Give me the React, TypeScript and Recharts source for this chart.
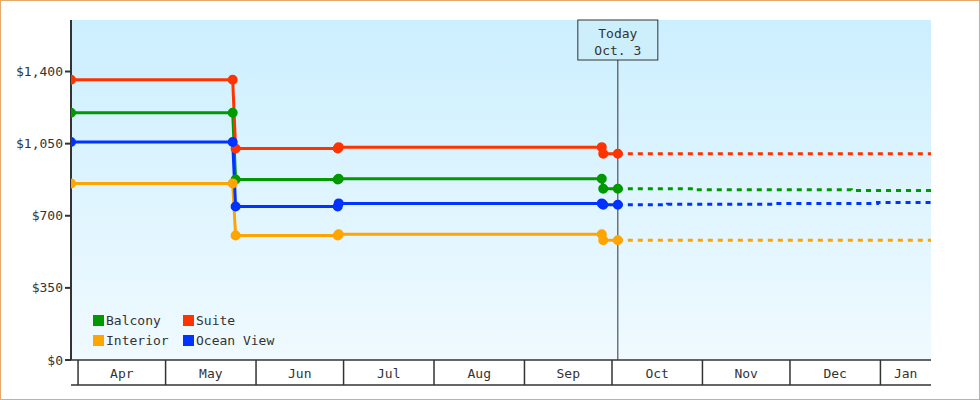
import { LineChart, Line, XAxis, YAxis, CartesianGrid, ReferenceLine } from "recharts";

const MONO = '"DejaVu Sans Mono", monospace';
const INK = "#333";

// price history, each change is a pair of points (old price, new price)
const pastDates = [
  "2023-03-29T14:00", "2023-05-24T00:00", "2023-05-25T00:00", "2023-06-29T00:00",
  "2023-06-29T08:00", "2023-09-27T12:00", "2023-09-28T00:00", "2023-10-03T00:00",
];
const balconyPast = [1200, 1200, 876, 876, 880, 880, 831, 831];
const suitePast = [1360, 1360, 1026, 1026, 1033, 1033, 1001, 1001];
const interiorPast = [857, 857, 604, 604, 610, 610, 581, 581];
const oceanPast = [1058, 1058, 745, 745, 760, 760, 753, 753];

// forecast after today
const END = "2024-01-18T08:00";
const balconyFcDates = ["2023-10-03T00:00", "2023-10-30T00:00", "2023-12-22T00:00", END];
const balconyFc = [831, 826, 822, 822];
const suiteFcDates = ["2023-10-03T00:00", END];
const suiteFc = [1001, 1001];
const interiorFcDates = ["2023-10-03T00:00", END];
const interiorFc = [581, 581];
const oceanFcDates = ["2023-10-03T00:00", "2023-10-20T00:00", "2023-11-26T00:00", "2023-12-31T00:00", END];
const oceanFc = [753, 756, 760, 764, 764];

const TODAY = "2023-10-03T00:00";
const monthStarts = [
  "2023-04-01T00:00", "2023-05-01T00:00", "2023-06-01T00:00", "2023-07-01T00:00", "2023-08-01T00:00",
  "2023-09-01T00:00", "2023-10-01T00:00", "2023-11-01T00:00", "2023-12-01T00:00", "2024-01-01T00:00",
];
const monthLabels = ["Apr", "May", "Jun", "Jul", "Aug", "Sep", "Oct", "Nov", "Dec", "Jan"];
const yTicks = [0, 350, 700, 1050, 1400];

const ts = (s: string) => Date.parse(s + ":00Z");
const series = (dates: string[], vals: number[]) => dates.map((d, i) => ({ t: ts(d), v: vals[i] }));

const domainX: [number, number] = [ts(pastDates[0]), ts(END)];

const boundaryTicks = monthStarts.map(ts);
const labelTicks = monthStarts.map((m, i) => {
  const a = ts(m);
  const b = i + 1 < monthStarts.length ? ts(monthStarts[i + 1]) : domainX[1];
  return (a + Math.min(b, domainX[1])) / 2;
});
const labelAt = new Map<number, string>(labelTicks.map((t, i) => [t, monthLabels[i]]));

const cabins = [
  { name: "Balcony", color: "#009900", past: series(pastDates, balconyPast), fc: series(balconyFcDates, balconyFc) },
  { name: "Suite", color: "#ff3300", past: series(pastDates, suitePast), fc: series(suiteFcDates, suiteFc) },
  { name: "Interior", color: "#ffa500", past: series(pastDates, interiorPast), fc: series(interiorFcDates, interiorFc) },
  { name: "Ocean View", color: "#0033ff", past: series(pastDates, oceanPast), fc: series(oceanFcDates, oceanFc) },
];

function MonthTick(props: any) {
  const { x, y, payload } = props;
  const label = labelAt.get(payload.value);
  if (label) {
    return (
      <text x={x} y={y + 13} textAnchor="middle" dominantBaseline="central" fill={INK} fontSize={13} fontFamily={MONO}>
        {label}
      </text>
    );
  }
  return <line x1={x} x2={x} y1={y} y2={y + 25} stroke={INK} strokeWidth={1.5} />;
}

function TodayBox(props: any) {
  const { x, y } = props.viewBox;
  return (
    <g>
      <rect x={x - 40} y={y} width={80} height={40} fill="#cdeffc" stroke={INK} strokeWidth={1} />
      <text x={x} y={y + 13} textAnchor="middle" dominantBaseline="central" fill={INK} fontSize={13} fontFamily={MONO}>
        Today
      </text>
      <text x={x} y={y + 30} textAnchor="middle" dominantBaseline="central" fill={INK} fontSize={13} fontFamily={MONO}>
        Oct. 3
      </text>
    </g>
  );
}

export default function App() {
  return (
    <div style={{ position: "absolute", left: 0, top: 0, width: 980, height: 400, background: "#fff" }}>
      <LineChart width={980} height={400} margin={{ top: 20, right: 49, left: 0, bottom: 14 }}>
        <defs>
          <linearGradient id="bgGrad" x1="0" y1="0" x2="0" y2="1">
            <stop offset="0%" stopColor="#ccefff" />
            <stop offset="100%" stopColor="#f0faff" />
          </linearGradient>
        </defs>
        <CartesianGrid horizontal={false} vertical={false} fill="url(#bgGrad)" />
        <XAxis
          dataKey="t"
          type="number"
          domain={domainX}
          allowDataOverflow
          ticks={[...boundaryTicks, ...labelTicks]}
          interval={0}
          tickSize={0}
          tickMargin={0}
          tickLine={false}
          tick={<MonthTick />}
          height={25}
          axisLine={{ stroke: INK, strokeWidth: 1.5 }}
        />
        <XAxis
          xAxisId="base"
          dataKey="t"
          type="number"
          domain={domainX}
          allowDataOverflow
          tick={false}
          tickLine={false}
          height={1}
          axisLine={{ stroke: INK, strokeWidth: 1.5 }}
        />
        <YAxis
          type="number"
          domain={[0, 1650]}
          ticks={yTicks}
          width={71}
          tickSize={6}
          tickFormatter={(v: number) => "$" + v.toLocaleString("en-US")}
          tick={{ fill: INK, fontSize: 13, fontFamily: MONO }}
          axisLine={{ stroke: INK, strokeWidth: 2 }}
          tickLine={{ stroke: INK, strokeWidth: 2 }}
        />
        <ReferenceLine x={ts(TODAY)} stroke={INK} strokeWidth={1} label={<TodayBox />} />
        {cabins.map((c) => (
          <Line
            key={c.name + "-fc"}
            data={c.fc}
            dataKey="v"
            type="stepAfter"
            stroke={c.color}
            strokeWidth={3}
            strokeDasharray="5 5"
            dot={false}
            isAnimationActive={false}
          />
        ))}
        {cabins.map((c) => (
          <Line
            key={c.name}
            data={c.past}
            dataKey="v"
            type="linear"
            stroke={c.color}
            strokeWidth={3}
            dot={{ r: 4, fill: c.color, stroke: c.color, strokeWidth: 2 }}
            isAnimationActive={false}
          />
        ))}
      </LineChart>
      <div
        style={{
          position: "absolute",
          left: 93,
          top: 314,
          display: "grid",
          gridTemplateColumns: "90px auto",
          rowGap: 7,
          fontFamily: MONO,
          fontSize: 13,
          lineHeight: "13px",
          color: INK,
        }}
      >
        {cabins.map((c) => (
          <div key={c.name} style={{ display: "flex", alignItems: "center" }}>
            <span style={{ width: 11, height: 11, background: c.color, marginRight: 2, display: "inline-block" }} />
            <span>{c.name}</span>
          </div>
        ))}
      </div>
      <div
        style={{
          position: "absolute",
          left: 0,
          top: 0,
          width: 980,
          height: 400,
          boxSizing: "border-box",
          border: "1px solid #e6a96b",
          pointerEvents: "none",
        }}
      />
    </div>
  );
}
